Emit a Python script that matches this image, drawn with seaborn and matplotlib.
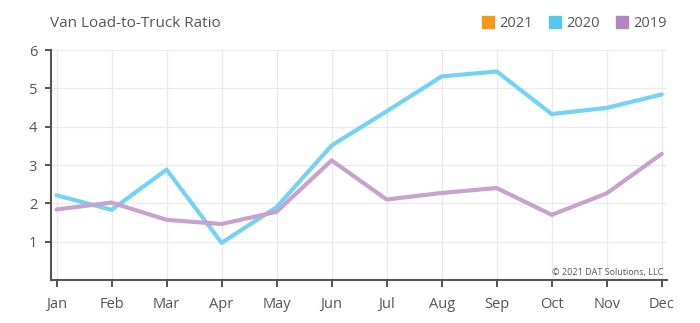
import numpy as np
import pandas as pd
import matplotlib
matplotlib.use("Agg")
import matplotlib.pyplot as plt
from matplotlib.lines import Line2D
import seaborn as sns

months = ["Jan", "Feb", "Mar", "Apr", "May", "Jun", "Jul", "Aug", "Sep", "Oct", "Nov", "Dec"]
ratio_2021 = [np.nan] * 12
ratio_2020 = [2.21, 1.83, 2.88, 0.97, 1.90, 3.51, 4.40, 5.31, 5.44, 4.33, 4.49, 4.84]
ratio_2019 = [1.84, 2.02, 1.57, 1.46, 1.78, 3.12, 2.10, 2.27, 2.40, 1.70, 2.26, 3.29]
years = ["2021", "2020", "2019"]
legend_colors = {"2021": "#F7971D", "2020": "#55C8F0", "2019": "#B485BE"}
line_colors = {"2021": "#F7971D", "2020": "#74D2F5", "2019": "#C6A2CD"}

df = pd.DataFrame({
    "month": list(range(12)) * 3,
    "ratio": ratio_2021 + ratio_2020 + ratio_2019,
    "year": ["2021"] * 12 + ["2020"] * 12 + ["2019"] * 12,
})

sns.set_style("white")
plt.rcParams["font.family"] = ["Open Sans", "DejaVu Sans"]

fig = plt.figure(figsize=(7.0, 3.23), dpi=100)
ax = fig.add_axes([0.0729, 0.1331, 0.8795, 0.7121])

sns.lineplot(data=df.dropna(), x="month", y="ratio", hue="year",
             hue_order=["2020", "2019"], palette=line_colors,
             linewidth=3.0, legend=False, ax=ax, zorder=3)

ax.set_xlim(-0.1, 11.09)
ax.set_ylim(0, 6)
ax.set_xticks(range(12))
ax.set_xticklabels(months)
ax.set_yticks([1, 2, 3, 4, 5, 6])
ax.set_xlabel("")
ax.set_ylabel("")

ax.grid(True, color="#EBEBEB", linewidth=1.0, zorder=0)
for side in ("top", "right"):
    ax.spines[side].set_visible(False)
for side in ("left", "bottom"):
    ax.spines[side].set_color("#555555")
    ax.spines[side].set_linewidth(1.5)

ax.tick_params(axis="x", direction="out", length=5, width=1.3, color="#444444",
               labelsize=10.5, labelcolor="#555555", pad=7, bottom=True)
ax.tick_params(axis="y", direction="out", length=4, width=1.3, color="#444444",
               labelsize=10.5, labelcolor="#555555", pad=6, left=True)

fig.text(0.071, 0.928, "Van Load-to-Truck Ratio", fontsize=11, color="#555555",
         ha="left", va="center")

ax.text(0.995, 0.015, "© 2021 DAT Solutions, LLC", transform=ax.transAxes,
        fontsize=6.5, color="#555555", ha="right", va="bottom")

handles = [Line2D([0], [0], marker="s", linestyle="none", markersize=8.5,
                  markerfacecolor=legend_colors[y], markeredgecolor=legend_colors[y])
           for y in years]
fig.legend(handles, years, loc="center right", bbox_to_anchor=(0.953, 0.928),
           ncol=3, frameon=False, fontsize=10.5, labelcolor="#555555",
           handlelength=0.7, handletextpad=0.45, columnspacing=1.15,
           borderaxespad=0, borderpad=0)

fig.savefig("out.png", dpi=100, facecolor="white")
